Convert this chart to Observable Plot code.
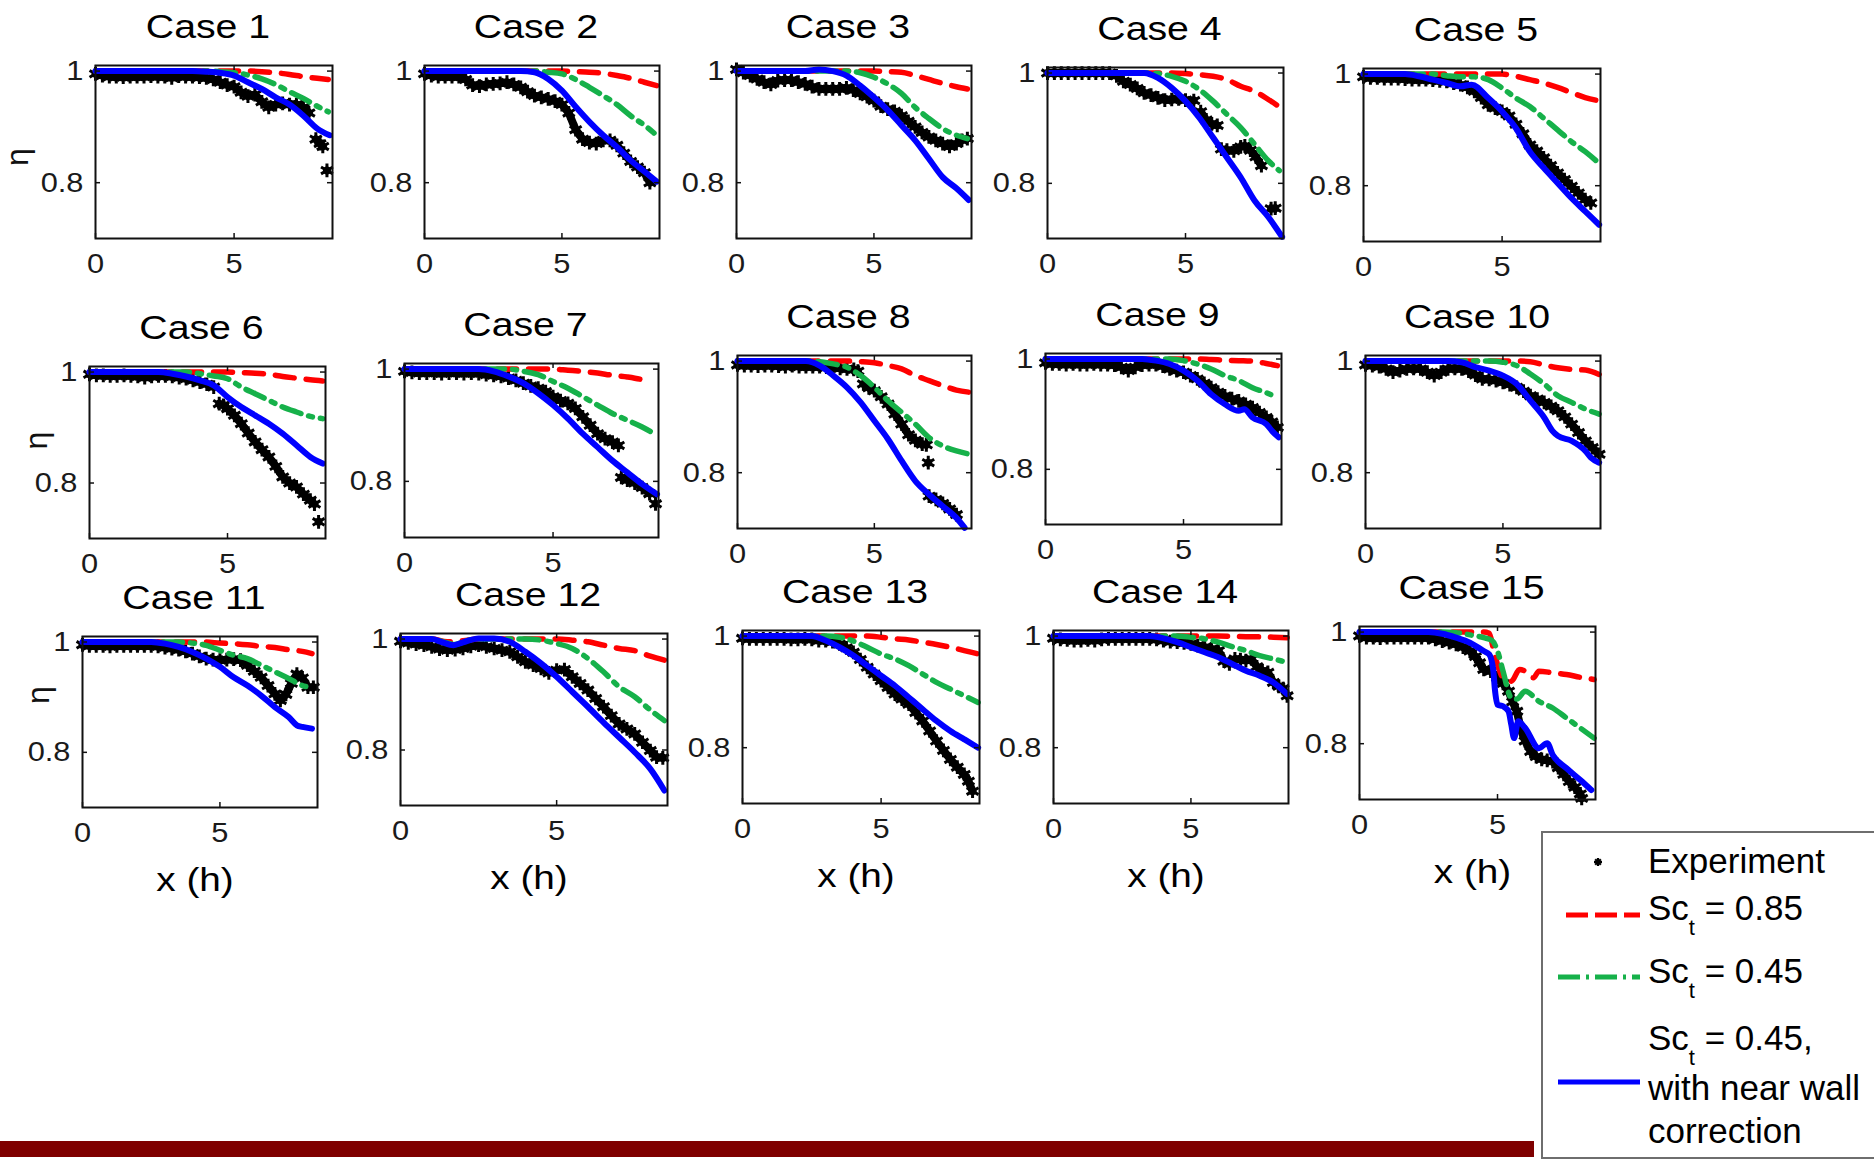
<!DOCTYPE html>
<html><head><meta charset="utf-8">
<script src="https://cdn.jsdelivr.net/npm/d3@7"></script>
<script src="https://cdn.jsdelivr.net/npm/@observablehq/plot@0.6"></script>
<style>
html,body{margin:0;padding:0;background:#fff;}
#page{position:relative;width:1874px;height:1160px;overflow:hidden;background:#fff;}
#page svg.panel{position:absolute;}
#bar{position:absolute;left:0;top:1141px;width:1534px;height:16px;background:#7f0000;}
</style></head><body><div id="page"><div id="bar"></div></div>
<script>
// ---------- labels & ticks ----------
const caseTitles = ["Case 1","Case 2","Case 3","Case 4","Case 5","Case 6","Case 7","Case 8","Case 9","Case 10","Case 11","Case 12","Case 13","Case 14","Case 15"];
const xTicks = [0, 5];
const xTickLabels = ["0", "5"];
const yTicks = [0.8, 1];
const yTickLabels = ["0.8", "1"];
const xDomain = [0, 8.55];
const yDomain = [0.7, 1.01];
const xLabel = "x (h)";
const yLabel = "η";
const legendLabels = ["Experiment", "0.85", "0.45", "0.45,", "with near wall", "correction"];

// ---------- data: experiment (segments of [x, eta]) and model curves ----------
const exp1 = [[[0,0.995],[0.25,0.992],[0.5,0.99],[0.75,0.99],[1,0.989],[1.25,0.99],[1.5,0.99],[1.75,0.99],[2,0.991],[2.25,0.99],[2.5,0.99],[2.75,0.988],[3,0.991],[3.25,0.99],[3.5,0.99],[3.75,0.989],[4,0.988],[4.25,0.985],[4.5,0.98],[4.75,0.975],[5,0.972],[5.25,0.962],[5.5,0.955],[5.75,0.958],[6,0.945],[6.25,0.935],[6.5,0.94],[6.75,0.942],[7,0.94],[7.25,0.94],[7.5,0.935],[7.7,0.925]],[[7.95,0.878],[8.1,0.87],[8.2,0.865]],[[8.35,0.822]]];
const red1 = [[0,1],[1,1],[2,1],[3,1],[4,1],[5,1],[5.5,1],[6,0.999],[6.5,0.997],[7,0.994],[7.5,0.99],[8,0.987],[8.4,0.985]];
const green1 = [[0,1],[1,1],[2,1],[3,1],[4,1],[4.5,0.999],[5,0.997],[5.5,0.993],[6,0.986],[6.5,0.976],[7,0.963],[7.5,0.951],[8,0.937],[8.4,0.927]];
const blue1 = [[0,1],[1,1],[2,1],[3,1],[3.5,1],[4,0.999],[4.5,0.997],[5,0.992],[5.5,0.98],[6,0.968],[6.5,0.953],[7,0.94],[7.5,0.92],[8,0.897],[8.45,0.885]];

const exp2 = [[[0,0.995],[0.25,0.992],[0.5,0.99],[0.75,0.99],[1,0.99],[1.25,0.99],[1.5,0.985],[1.75,0.975],[2,0.973],[2.25,0.976],[2.5,0.977],[2.75,0.978],[3,0.98],[3.25,0.976],[3.5,0.971],[3.75,0.963],[4,0.956],[4.25,0.953],[4.5,0.95],[4.75,0.946],[5,0.94],[5.25,0.925],[5.5,0.895],[5.75,0.878],[6,0.872],[6.25,0.87],[6.5,0.876],[6.75,0.876],[7,0.867],[7.25,0.853],[7.5,0.838],[7.75,0.828],[8,0.818],[8.2,0.8]]];
const red2 = [[0,1],[1,1],[2,1],[3,1],[4,1],[5,1],[5.5,0.999],[6,0.998],[6.5,0.996],[7,0.992],[7.5,0.987],[8,0.98],[8.45,0.974]];
const green2 = [[0,1],[1,1],[2,1],[3,1],[4,1],[4.5,0.998],[5,0.995],[5.5,0.985],[6,0.971],[6.5,0.956],[7,0.94],[7.5,0.92],[8,0.903],[8.35,0.889]];
const blue2 = [[0,1],[1,1],[2,1],[3,1],[3.5,1],[4,0.998],[4.5,0.986],[5,0.965],[5.5,0.936],[6,0.909],[6.5,0.885],[7,0.864],[7.5,0.84],[8,0.82],[8.45,0.802]];

const exp3 = [[[0,1.003],[0.25,0.997],[0.5,0.992],[0.75,0.986],[1,0.98],[1.25,0.976],[1.5,0.983],[1.75,0.984],[2,0.984],[2.25,0.98],[2.5,0.977],[2.75,0.972],[3,0.968],[3.25,0.968],[3.5,0.968],[3.75,0.968],[4,0.97],[4.25,0.966],[4.5,0.96],[4.75,0.954],[5,0.947],[5.25,0.937],[5.5,0.932],[5.75,0.928],[6,0.92],[6.25,0.91],[6.5,0.9],[6.75,0.89],[7,0.882],[7.25,0.876],[7.5,0.87],[7.75,0.865],[8,0.87],[8.2,0.876],[8.4,0.879]]];
const red3 = [[0,1],[1,1],[2,1],[3,1],[4,1],[5,1],[5.5,0.999],[6,0.998],[6.5,0.992],[7,0.985],[7.5,0.978],[8,0.972],[8.4,0.968]];
const green3 = [[0,1],[1,1],[2,1],[3,1],[4,1],[4.5,0.997],[5,0.989],[5.5,0.977],[6,0.96],[6.5,0.935],[7,0.915],[7.5,0.897],[8,0.885],[8.4,0.879]];
const blue3 = [[0,1],[1,1],[2,1],[2.5,1],[3,1.003],[3.5,1],[4,0.992],[4.5,0.974],[5,0.953],[5.5,0.93],[6,0.903],[6.5,0.876],[7,0.843],[7.5,0.81],[8,0.79],[8.45,0.769]];

const exp4 = [[[0,1],[0.25,1],[0.5,1],[0.75,1],[1,1],[1.25,1],[1.5,1],[1.75,1],[2,1],[2.25,1],[2.5,0.995],[2.75,0.985],[3,0.979],[3.25,0.972],[3.5,0.964],[3.75,0.96],[4,0.955],[4.25,0.951],[4.5,0.952],[4.75,0.953],[5,0.951],[5.3,0.95]],[[5.55,0.93],[5.75,0.915],[5.95,0.908],[6.15,0.905]],[[6.3,0.862],[6.5,0.86],[6.75,0.859],[7,0.866],[7.15,0.868],[7.35,0.86],[7.55,0.848],[7.75,0.832]],[[8.1,0.754],[8.25,0.755]]];
const red4 = [[0,1],[1,1],[2,1],[3,1],[4,1],[4.5,1],[5,0.999],[5.5,0.997],[6,0.994],[6.5,0.988],[7,0.976],[7.5,0.967],[8,0.952],[8.45,0.937]];
const green4 = [[0,1],[1,1],[2,1],[3,1],[3.5,1],[4,0.999],[4.5,0.994],[5,0.985],[5.5,0.97],[6,0.949],[6.5,0.925],[7,0.901],[7.5,0.871],[8,0.841],[8.4,0.823]];
const blue4 = [[0,1],[1,1],[2,1],[3,1],[3.5,1],[4,0.991],[4.5,0.973],[5,0.949],[5.5,0.919],[6,0.883],[6.5,0.847],[7,0.811],[7.5,0.769],[8,0.739],[8.5,0.703]];

const exp5 = [[[0,0.995],[0.25,0.993],[0.5,0.993],[0.75,0.992],[1,0.992],[1.25,0.992],[1.5,0.991],[1.75,0.99],[2,0.99],[2.25,0.99],[2.5,0.989],[2.75,0.988],[3,0.987],[3.25,0.984],[3.5,0.981],[3.75,0.976],[4,0.969],[4.25,0.958],[4.5,0.945],[4.75,0.939],[5,0.933],[5.25,0.925],[5.5,0.91],[5.75,0.893],[6,0.873],[6.25,0.862],[6.5,0.85],[6.75,0.836],[7,0.823],[7.25,0.811],[7.5,0.799],[7.75,0.787],[8,0.775],[8.2,0.769]]];
const red5 = [[0,1],[1,1],[2,1],[3,1],[4,1],[5,1],[5.5,0.996],[6,0.99],[6.5,0.984],[7,0.976],[7.5,0.967],[8,0.958],[8.5,0.952]];
const green5 = [[0,1],[1,1],[2,1],[2.5,1],[3,0.997],[3.5,0.995],[4,0.995],[4.5,0.99],[5,0.975],[5.5,0.957],[6,0.942],[6.5,0.921],[7,0.9],[7.5,0.879],[8,0.861],[8.5,0.84]];
const blue5 = [[0,1],[1,1],[1.5,1],[2,0.996],[2.5,0.99],[3,0.984],[3.5,0.978],[3.9,0.981],[4.5,0.957],[5,0.933],[5.5,0.903],[6,0.861],[6.5,0.832],[7,0.805],[7.5,0.778],[8,0.754],[8.5,0.73]];

const exp6 = [[[0,0.996],[0.25,0.994],[0.5,0.994],[0.75,0.993],[1,0.993],[1.25,0.994],[1.5,0.993],[1.75,0.992],[2,0.99],[2.25,0.992],[2.5,0.993],[2.75,0.993],[3,0.992],[3.25,0.99],[3.5,0.988],[3.75,0.985],[4,0.982],[4.25,0.978],[4.5,0.973]],[[4.7,0.943],[4.85,0.94],[5,0.934],[5.25,0.922],[5.5,0.907],[5.75,0.89],[6,0.874],[6.25,0.86],[6.5,0.847],[6.75,0.83],[7,0.811],[7.25,0.8],[7.5,0.793],[7.75,0.78],[8,0.769],[8.15,0.762]],[[8.3,0.73]]];
const red6 = [[0,1],[1,1],[2,1],[3,1],[4,1],[5,1],[5.5,0.999],[6,0.998],[6.5,0.996],[7,0.992],[7.5,0.989],[8,0.986],[8.45,0.984]];
const green6 = [[0,1],[1,1],[2,1],[3,1],[3.5,1],[4,0.997],[4.5,0.993],[5,0.988],[5.5,0.973],[6,0.961],[6.5,0.949],[7,0.937],[7.5,0.928],[8,0.92],[8.45,0.916]];
const blue6 = [[0,1],[1,1],[2,1],[2.5,1],[3,0.997],[3.5,0.992],[4,0.985],[4.5,0.976],[5,0.955],[5.5,0.937],[6,0.922],[6.5,0.907],[7,0.889],[7.5,0.868],[8,0.847],[8.45,0.835]];

const exp7 = [[[0,0.996],[0.25,0.994],[0.5,0.993],[0.75,0.993],[1,0.993],[1.25,0.992],[1.5,0.993],[1.75,0.993],[2,0.992],[2.25,0.993],[2.5,0.992],[2.75,0.99],[3,0.989],[3.25,0.987],[3.5,0.984],[3.75,0.98],[4,0.975],[4.25,0.97],[4.5,0.966],[4.75,0.96],[5,0.951],[5.25,0.944],[5.5,0.939],[5.75,0.93],[6,0.915],[6.25,0.9],[6.5,0.885],[6.75,0.876],[7,0.87],[7.2,0.864]],[[7.3,0.807],[7.5,0.802],[7.75,0.797],[8,0.789],[8.25,0.778]],[[8.45,0.76]]];
const red7 = [[0,1],[1,1],[2,1],[3,1],[4,1],[5,1],[5.5,0.998],[6,0.996],[6.5,0.993],[7,0.989],[7.5,0.986],[8,0.981],[8.3,0.976]];
const green7 = [[0,1],[1,1],[2,1],[3,1],[3.5,1],[4,0.996],[4.5,0.99],[5,0.978],[5.5,0.966],[6,0.951],[6.5,0.936],[7,0.921],[7.5,0.909],[8,0.897],[8.5,0.882]];
const blue7 = [[0,1],[1,1],[2,1],[2.5,1],[3,0.996],[3.5,0.987],[4,0.975],[4.5,0.957],[5,0.936],[5.5,0.912],[6,0.885],[6.5,0.861],[7,0.837],[7.5,0.816],[8,0.795],[8.5,0.777]];

const exp8 = [[[0,0.993],[0.25,0.992],[0.5,0.992],[0.75,0.991],[1,0.992],[1.25,0.992],[1.5,0.991],[1.75,0.99],[2,0.992],[2.25,0.99],[2.5,0.99],[2.75,0.99],[3,0.99],[3.25,0.989],[3.5,0.989],[3.75,0.987],[4,0.986],[4.25,0.985],[4.4,0.982]],[[4.6,0.959],[4.8,0.952],[5,0.947],[5.25,0.936],[5.5,0.923],[5.75,0.905],[6,0.887],[6.25,0.868],[6.5,0.858],[6.75,0.851],[6.9,0.85]],[[6.97,0.818]],[[7,0.758],[7.25,0.752],[7.5,0.745],[7.75,0.735],[8,0.725]]];
const red8 = [[0,1],[1,1],[2,1],[3,1],[4,1],[4.5,0.999],[5,0.997],[5.5,0.992],[6,0.986],[6.5,0.974],[7,0.965],[7.5,0.956],[8,0.948],[8.5,0.944]];
const green8 = [[0,1],[1,1],[2,1],[2.5,1],[3,0.999],[3.5,0.995],[4,0.989],[4.5,0.974],[5,0.953],[5.5,0.929],[6,0.908],[6.5,0.887],[7,0.863],[7.5,0.848],[8,0.839],[8.5,0.833]];
const blue8 = [[0,1],[1,1],[2,1],[2.5,1],[3,0.992],[3.5,0.974],[4,0.953],[4.5,0.926],[5,0.893],[5.5,0.86],[6,0.821],[6.5,0.785],[7,0.761],[7.5,0.74],[8,0.719],[8.3,0.701]];

const exp9 = [[[0,0.993],[0.25,0.991],[0.5,0.991],[0.75,0.99],[1,0.991],[1.25,0.99],[1.5,0.99],[1.75,0.991],[2,0.99],[2.25,0.99],[2.5,0.989],[2.75,0.985],[3,0.979],[3.25,0.985],[3.5,0.989],[3.75,0.99],[4,0.99],[4.25,0.987],[4.5,0.982],[4.75,0.979],[5,0.976],[5.25,0.97],[5.5,0.964],[5.75,0.956],[6,0.948],[6.25,0.94],[6.5,0.933],[6.75,0.928],[7,0.924],[7.25,0.918],[7.5,0.912],[7.75,0.903],[8,0.894],[8.2,0.886],[8.4,0.876]]];
const red9 = [[0,1],[1,1],[2,1],[3,1],[4,1],[5,1],[5.5,1],[6,0.999],[6.5,0.998],[7,0.997],[7.5,0.996],[8,0.992],[8.4,0.988]];
const green9 = [[0,1],[1,1],[2,1],[3,1],[4,1],[4.5,1],[5,0.997],[5.5,0.991],[6,0.982],[6.5,0.97],[7,0.961],[7.5,0.948],[8,0.939],[8.4,0.93]];
const blue9 = [[0,1],[1,1],[2,1],[3,1],[3.5,1],[4,0.997],[4.5,0.991],[5,0.979],[5.5,0.961],[6,0.936],[6.5,0.918],[7,0.906],[7.2,0.909],[7.5,0.894],[8,0.882],[8.2,0.87],[8.45,0.858]];

const exp10 = [[[0,0.993],[0.25,0.992],[0.5,0.99],[0.75,0.986],[1,0.98],[1.25,0.983],[1.5,0.986],[1.75,0.987],[2,0.986],[2.25,0.98],[2.5,0.974],[2.75,0.98],[3,0.986],[3.25,0.987],[3.5,0.986],[3.75,0.982],[4,0.975],[4.25,0.968],[4.5,0.967],[4.75,0.965],[5,0.962],[5.25,0.958],[5.5,0.953],[5.75,0.946],[6,0.938],[6.25,0.932],[6.5,0.926],[6.75,0.919],[7,0.911],[7.25,0.9],[7.5,0.887],[7.75,0.872],[8,0.857],[8.25,0.845],[8.5,0.833]]];
const red10 = [[0,1],[1,1],[2,1],[3,1],[4,1],[5,1],[5.5,1],[6,0.999],[6.5,0.993],[7,0.988],[7.5,0.985],[8,0.984],[8.5,0.976]];
const green10 = [[0,1],[1,1],[2,1],[3,1],[4,1],[4.5,1],[5,0.998],[5.5,0.992],[6,0.977],[6.5,0.959],[7,0.938],[7.5,0.926],[8,0.914],[8.5,0.905]];
const blue10 = [[0,1],[1,1],[2,1],[3,1],[3.5,0.998],[4,0.989],[4.5,0.983],[5,0.974],[5.5,0.959],[6,0.929],[6.5,0.899],[6.8,0.875],[7,0.866],[7.5,0.857],[8,0.839],[8.2,0.827],[8.5,0.818]];

const exp11 = [[[0,0.995],[0.25,0.993],[0.5,0.993],[0.75,0.993],[1,0.992],[1.25,0.993],[1.5,0.993],[1.75,0.993],[2,0.993],[2.25,0.993],[2.5,0.993],[2.75,0.992],[3,0.99],[3.25,0.988],[3.5,0.986],[3.75,0.983],[4,0.979],[4.25,0.974],[4.5,0.97],[4.75,0.968],[5,0.967],[5.25,0.968],[5.5,0.969],[5.75,0.967],[6,0.958],[6.25,0.947],[6.5,0.936],[6.75,0.921],[7,0.906],[7.2,0.894],[7.4,0.905],[7.6,0.925],[7.8,0.942],[8,0.935],[8.2,0.918],[8.4,0.918]]];
const red11 = [[0,1],[1,1],[2,1],[3,1],[4,1],[4.5,1],[5,0.998],[5.5,0.997],[6,0.995],[6.5,0.992],[7,0.99],[7.5,0.986],[8,0.983],[8.35,0.979]];
const green11 = [[0,1],[1,1],[2,1],[3,1],[3.5,1],[4,0.998],[4.5,0.994],[5,0.985],[5.5,0.976],[6,0.97],[6.5,0.958],[7,0.946],[7.5,0.934],[8,0.921],[8.35,0.918]];
const blue11 = [[0,1],[1,1],[2,1],[2.5,1],[3,0.997],[3.5,0.991],[4,0.982],[4.5,0.97],[5,0.955],[5.5,0.936],[6,0.921],[6.5,0.903],[7,0.882],[7.5,0.864],[7.8,0.849],[8,0.846],[8.35,0.843]];

const exp12 = [[[0,0.996],[0.25,0.993],[0.5,0.991],[0.75,0.989],[1,0.986],[1.25,0.982],[1.5,0.98],[1.75,0.981],[2,0.983],[2.25,0.987],[2.5,0.989],[2.75,0.986],[3,0.983],[3.25,0.98],[3.5,0.977],[3.75,0.968],[4,0.959],[4.25,0.953],[4.5,0.947],[4.75,0.939],[5,0.944],[5.25,0.945],[5.5,0.932],[5.75,0.92],[6,0.908],[6.25,0.893],[6.5,0.878],[6.75,0.862],[7,0.847],[7.25,0.838],[7.5,0.829],[7.75,0.814],[8,0.799],[8.2,0.787],[8.4,0.786]]];
const red12 = [[0,1],[1,1],[1.5,0.995],[2,0.997],[2.5,1],[3,1],[4,1],[5,1],[5.5,0.998],[6,0.995],[6.5,0.989],[7,0.983],[7.5,0.979],[8,0.969],[8.45,0.962]];
const green12 = [[0,1],[1,1],[1.5,0.993],[1.75,0.99],[2,0.995],[2.5,1],[3,1],[4,1],[4.5,0.998],[5,0.992],[5.5,0.983],[6,0.965],[6.5,0.941],[7,0.914],[7.5,0.896],[8,0.872],[8.45,0.853]];
const blue12 = [[0,1],[1,1],[1.3,0.995],[1.7,0.989],[2,0.994],[2.5,1.001],[3,1.001],[3.5,0.995],[4,0.977],[4.5,0.956],[5,0.932],[5.5,0.905],[6,0.878],[6.5,0.85],[7,0.823],[7.5,0.796],[8,0.766],[8.45,0.727]];

const exp13 = [[[0,0.996],[0.25,0.995],[0.5,0.995],[0.75,0.995],[1,0.995],[1.25,0.995],[1.5,0.995],[1.75,0.994],[2,0.994],[2.25,0.995],[2.5,0.994],[2.75,0.992],[3,0.992],[3.25,0.99],[3.5,0.986],[3.75,0.979],[4,0.971],[4.25,0.958],[4.5,0.944],[4.75,0.932],[5,0.92],[5.25,0.908],[5.5,0.896],[5.75,0.887],[6,0.878],[6.25,0.863],[6.5,0.848],[6.75,0.83],[7,0.812],[7.25,0.795],[7.5,0.779],[7.75,0.765],[8,0.752],[8.15,0.74],[8.3,0.722]]];
const red13 = [[0,1],[1,1],[2,1],[3,1],[4,1],[4.5,1],[5,0.998],[5.5,0.995],[6,0.993],[6.5,0.989],[7,0.985],[7.5,0.98],[8,0.974],[8.5,0.968]];
const green13 = [[0,1],[1,1],[2,1],[3,1],[3.5,0.998],[4,0.991],[4.5,0.98],[5,0.968],[5.5,0.959],[6,0.947],[6.5,0.932],[7,0.917],[7.5,0.905],[8,0.893],[8.5,0.881]];
const blue13 = [[0,1],[1,1],[2,1],[2.5,1],[3,0.992],[3.5,0.98],[4,0.965],[4.5,0.947],[5,0.929],[5.5,0.911],[6,0.89],[6.5,0.869],[7,0.848],[7.5,0.83],[8,0.815],[8.5,0.8]];

const exp14 = [[[0,0.996],[0.25,0.994],[0.5,0.993],[0.75,0.992],[1,0.992],[1.25,0.993],[1.5,0.992],[1.75,0.994],[2,0.995],[2.25,0.995],[2.5,0.995],[2.75,0.995],[3,0.995],[3.25,0.995],[3.5,0.995],[3.75,0.994],[4,0.992],[4.25,0.99],[4.5,0.989],[4.75,0.988],[5,0.986],[5.25,0.983],[5.5,0.98],[5.75,0.977],[6,0.974],[6.2,0.955],[6.4,0.95],[6.6,0.959],[6.8,0.958],[7,0.956],[7.2,0.959],[7.4,0.945],[7.6,0.938],[7.8,0.935],[8,0.917],[8.2,0.91],[8.35,0.906],[8.5,0.893]]];
const red14 = [[0,1],[2,1],[4,1],[6,1],[7,0.999],[8,0.998],[8.5,0.997]];
const green14 = [[0,1],[1,1],[2,1],[3,1],[4,1],[4.5,1],[5,0.998],[5.5,0.995],[6,0.989],[6.5,0.981],[7,0.974],[7.5,0.965],[8,0.959],[8.5,0.953]];
const blue14 = [[0,1],[1,1],[2,1],[3,1],[3.5,1],[4,0.996],[4.5,0.989],[5,0.98],[5.5,0.971],[6,0.962],[6.5,0.95],[7,0.938],[7.5,0.929],[8,0.917],[8.5,0.896]];

const exp15 = [[[0,0.993],[0.25,0.99],[0.5,0.99],[0.75,0.989],[1,0.99],[1.25,0.99],[1.5,0.99],[1.75,0.99],[2,0.99],[2.25,0.99],[2.5,0.99],[2.75,0.987],[3,0.984],[3.25,0.981],[3.5,0.978],[3.75,0.973],[4,0.966],[4.2,0.956],[4.35,0.945],[4.5,0.933],[4.75,0.93],[5,0.918],[5.2,0.908],[5.4,0.894],[5.55,0.875],[5.7,0.858],[5.85,0.825],[6,0.805],[6.2,0.786],[6.4,0.777],[6.6,0.772],[6.8,0.77],[7,0.768],[7.2,0.757],[7.4,0.745],[7.6,0.732],[7.8,0.722],[8,0.71],[8.05,0.702]]];
const red15 = [[0,1],[1,1],[2,1],[3,1],[4,1],[4.5,1],[4.7,0.998],[4.85,0.97],[5,0.942],[5.2,0.918],[5.5,0.912],[5.8,0.933],[6,0.93],[6.3,0.918],[6.5,0.93],[7,0.927],[7.5,0.924],[8,0.919],[8.5,0.915]];
const green15 = [[0,1],[1,1],[2,1],[3,1],[3.5,0.999],[4,0.995],[4.5,0.99],[4.8,0.985],[5,0.966],[5.2,0.93],[5.5,0.882],[5.7,0.88],[6,0.894],[6.5,0.876],[7,0.864],[7.5,0.846],[8,0.828],[8.5,0.81]];
const blue15 = [[0,1],[1,1],[2,1],[2.5,1],[3,0.997],[3.5,0.99],[4,0.981],[4.5,0.966],[4.7,0.96],[4.85,0.93],[4.9,0.9],[5,0.87],[5.2,0.867],[5.4,0.858],[5.5,0.834],[5.6,0.81],[5.75,0.84],[6,0.828],[6.5,0.792],[6.8,0.801],[7,0.78],[7.5,0.756],[8,0.735],[8.4,0.717]];

const expData = [exp1,exp2,exp3,exp4,exp5,exp6,exp7,exp8,exp9,exp10,exp11,exp12,exp13,exp14,exp15];
const redData = [red1,red2,red3,red4,red5,red6,red7,red8,red9,red10,red11,red12,red13,red14,red15];
const greenData = [green1,green2,green3,green4,green5,green6,green7,green8,green9,green10,green11,green12,green13,green14,green15];
const blueData = [blue1,blue2,blue3,blue4,blue5,blue6,blue7,blue8,blue9,blue10,blue11,blue12,blue13,blue14,blue15];

// ---------- layout (frame boxes in page pixels) ----------
const layout = [
  {L:95, R:332, T:65, B:238, eta:[-78, 5]},
  {L:424, R:659, T:65, B:238},
  {L:736, R:971, T:65, B:238},
  {L:1047, R:1283, T:67, B:238},
  {L:1363, R:1600, T:68, B:241},
  {L:89, R:325, T:366, B:538, eta:[-53, -12]},
  {L:404, R:658, T:363, B:537},
  {L:737, R:971, T:355, B:528},
  {L:1045, R:1281, T:353, B:524},
  {L:1365, R:1600, T:355, B:528},
  {L:82, R:317, T:636, B:807, eta:[-44, -27]},
  {L:400, R:667, T:633, B:805},
  {L:742, R:979, T:630, B:803},
  {L:1053, R:1288, T:630, B:803},
  {L:1359, R:1595, T:626, B:799}
];

const COLORS = {exp: "#000000", red: "#ff0000", green: "#16b14a", blue: "#0000ff", axis: "#111111"};
const FONT = "'Liberation Sans', Arial, Helvetica, sans-serif";
const page = document.getElementById("page");
const mL = 100, mR = 20, mT = 55, mB = 100;

function stretchEl(el, sx) {
  const t = el.getAttribute("transform") || "";
  const x = parseFloat(el.getAttribute("x") || "0") || 0;
  el.setAttribute("transform", `${t} translate(${x},0) scale(${sx},1) translate(${-x},0)`);
}

caseTitles.forEach((title, i) => {
  const p = layout[i];
  const W = p.R - p.L, H = p.B - p.T;
  const expRows = expData[i].flatMap((seg, s) => seg.map(([x, y]) => ({x, y, s})));
  const px = d => d[0], py = d => d[1];
  const marks = [
    Plot.line(expRows, {x: "x", y: "y", z: "s", stroke: COLORS.exp, strokeWidth: 8}),
    Plot.dot(expRows, {x: "x", y: "y", symbol: "asterisk", r: 6.5, stroke: COLORS.exp, strokeWidth: 3}),
    Plot.line(redData[i], {x: px, y: py, stroke: COLORS.red, strokeWidth: 5.5, strokeDasharray: "19,12", curve: "monotone-x"}),
    Plot.line(greenData[i], {x: px, y: py, stroke: COLORS.green, strokeWidth: 5.5, strokeDasharray: "20,8,4,8", curve: "monotone-x"}),
    Plot.line(blueData[i], {x: px, y: py, stroke: COLORS.blue, strokeWidth: 6, curve: "monotone-x"}),
    Plot.tickX(xTicks, {x: d => d, insetTop: H - 5, stroke: COLORS.axis, strokeWidth: 1.5}),
    Plot.tickX(xTicks, {x: d => d, insetBottom: H - 5, stroke: COLORS.axis, strokeWidth: 1.5}),
    Plot.tickY(yTicks, {y: d => d, insetRight: W - 5, stroke: COLORS.axis, strokeWidth: 1.5}),
    Plot.tickY(yTicks, {y: d => d, insetLeft: W - 5, stroke: COLORS.axis, strokeWidth: 1.5}),
    Plot.frame({stroke: COLORS.axis, strokeWidth: 2}),
    Plot.text([title], {frameAnchor: "top", dx: -6, dy: -28, lineAnchor: "bottom", fontSize: 33, fill: "#000"})
  ];
  if (p.eta) {
    marks.push(Plot.text([yLabel], {frameAnchor: "left", dx: p.eta[0], dy: p.eta[1], rotate: -90, textAnchor: "middle", lineAnchor: "middle", fontSize: 32, fill: "#111"}));
  }
  if (i >= 10) {
    marks.push(Plot.text([xLabel], {frameAnchor: "bottom", dx: -5, dy: 83, lineAnchor: "bottom", fontSize: 34, fill: "#000"}));
  }
  const svg = Plot.plot({
    width: W + mL + mR,
    height: H + mT + mB,
    marginLeft: mL, marginRight: mR, marginTop: mT, marginBottom: mB,
    style: {fontFamily: FONT, fontSize: "28px", color: "#1a1a1a", background: "transparent", overflow: "visible"},
    x: {domain: xDomain, ticks: xTicks, tickSize: 0, tickPadding: 15, label: null, tickFormat: d => xTickLabels[xTicks.indexOf(d)]},
    y: {domain: yDomain, ticks: yTicks, tickSize: 0, tickPadding: 12, label: null, tickFormat: d => yTickLabels[yTicks.indexOf(d)]},
    marks
  });
  svg.classList.add("panel");
  svg.style.left = (p.L - mL) + "px";
  svg.style.top = (p.T - mT) + "px";
  page.appendChild(svg);
  // widen texts horizontally to match the stretched lettering of the original
  d3.select(svg).selectAll("text").each(function () {
    const s = this.textContent;
    if (s === title) stretchEl(this, 1.19);
    else if (s === xLabel) stretchEl(this, 1.14);
    else if (xTickLabels.includes(s) || yTickLabels.includes(s)) stretchEl(this, 1.1);
  });
});

// ---------- legend ----------
const leg = d3.select(page).append("svg")
  .attr("width", 1874).attr("height", 1160)
  .style("position", "absolute").style("left", "0px").style("top", "0px")
  .style("font-family", FONT);
leg.append("rect").attr("x", 1542).attr("y", 832).attr("width", 360).attr("height", 326)
  .attr("fill", "#fff").attr("stroke", "#6e6e6e").attr("stroke-width", 2);
const star = leg.append("g").attr("transform", "translate(1598,862)").attr("stroke", "#000").attr("stroke-width", 2.2);
[0, 45, 90, 135].forEach(a => star.append("line").attr("x1", -4).attr("x2", 4).attr("y1", 0).attr("y2", 0).attr("transform", `rotate(${a})`));
leg.append("line").attr("x1", 1566).attr("x2", 1640).attr("y1", 915).attr("y2", 915)
  .attr("stroke", COLORS.red).attr("stroke-width", 5).attr("stroke-dasharray", "22,7");
leg.append("line").attr("x1", 1558).attr("x2", 1640).attr("y1", 977).attr("y2", 977)
  .attr("stroke", COLORS.green).attr("stroke-width", 5).attr("stroke-dasharray", "22,6,3,6");
leg.append("line").attr("x1", 1558).attr("x2", 1640).attr("y1", 1082).attr("y2", 1082)
  .attr("stroke", COLORS.blue).attr("stroke-width", 5);
function scText(y, value) {
  const t = leg.append("text").attr("x", 1648).attr("y", y).attr("font-size", 35).attr("fill", "#000");
  t.append("tspan").text("Sc");
  t.append("tspan").attr("font-size", 22).attr("dy", 15).text("t");
  t.append("tspan").attr("dy", -15).text(" = " + value);
}
leg.append("text").attr("x", 1648).attr("y", 873).attr("font-size", 35).attr("fill", "#000").text(legendLabels[0]);
scText(920, legendLabels[1]);
scText(983, legendLabels[2]);
scText(1050, legendLabels[3]);
leg.append("text").attr("x", 1648).attr("y", 1100).attr("font-size", 35).attr("fill", "#000").text(legendLabels[4]);
leg.append("text").attr("x", 1648).attr("y", 1143).attr("font-size", 35).attr("fill", "#000").text(legendLabels[5]);
</script></body></html>
